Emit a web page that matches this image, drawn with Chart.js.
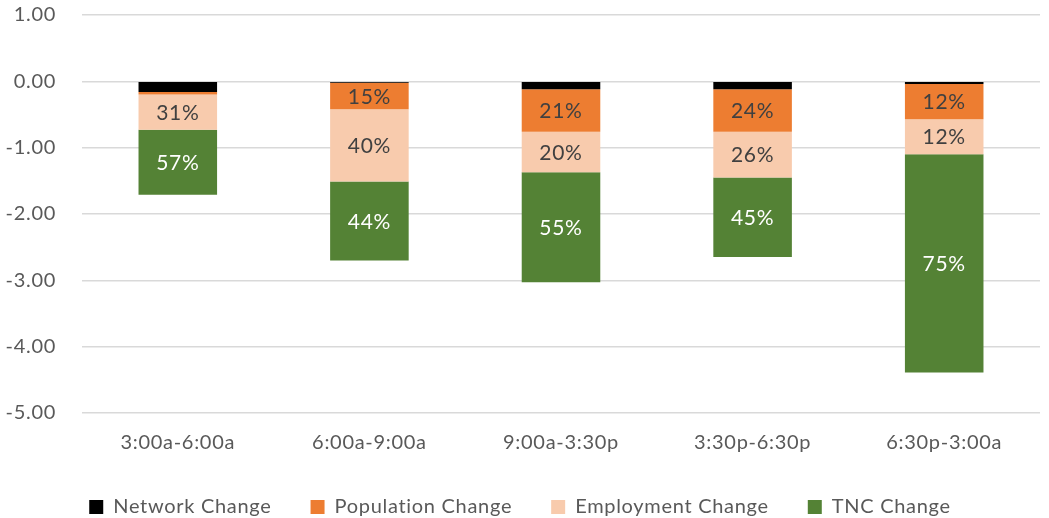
<!DOCTYPE html>
<html>
<head>
<meta charset="utf-8">
<script src="https://cdn.jsdelivr.net/npm/chart.js@4.4.0/dist/chart.umd.min.js"></script>
<style>
  html, body { margin: 0; padding: 0; background: #fff; }
  #wrap { width: 1049px; height: 518px; }
</style>
</head>
<body>
<div id="wrap"><canvas id="myChart"></canvas></div>
<script>
const periods = ["3:00a-6:00a", "6:00a-9:00a", "9:00a-3:30p", "3:30p-6:30p", "6:30p-3:00a"];
const networkChange = [-0.16, -0.02, -0.12, -0.12, -0.04];
const populationChange = [-0.04, -0.40, -0.64, -0.64, -0.53];
const employmentChange = [-0.53, -1.09, -0.61, -0.69, -0.53];
const tncChange = [-0.98, -1.19, -1.66, -1.20, -3.29];
const yTicks = [1, 0, -1, -2, -3, -4, -5];

const textGray = "#595959";

// slightly spaced letters, like the original rendering
const spacing = {
  id: "spacing",
  beforeUpdate(chart) { chart.ctx.letterSpacing = "0.7px"; },
  beforeDraw(chart) { chart.ctx.letterSpacing = "0.7px"; }
};

// percentage labels inside the segments (share of the bar's total)
const pctLabels = {
  id: "pctLabels",
  afterDatasetsDraw(chart) {
    const ctx = chart.ctx;
    const ds = chart.data.datasets;
    ctx.save();
    ctx.font = "21px Lato";
    ctx.textAlign = "center";
    ctx.textBaseline = "middle";
    for (let d = 1; d < ds.length; d++) {
      const meta = chart.getDatasetMeta(d);
      meta.data.forEach(function (bar, i) {
        let total = 0;
        ds.forEach(function (s) { total += Math.abs(s.data[i]); });
        const pct = Math.round(Math.abs(ds[d].data[i]) / total * 100);
        if (pct < 5) return;
        const p = bar.getProps(["x", "y", "base"], true);
        ctx.fillStyle = ds[d].labelColor;
        ctx.fillText(pct + "%", p.x, (p.y + p.base) / 2 + 1);
      });
    }
    ctx.restore();
  }
};

new Chart(document.getElementById("myChart").getContext("2d"), {
  type: "bar",
  data: {
    labels: periods,
    datasets: [
      { label: "Network Change", data: networkChange, backgroundColor: "#000000" },
      { label: "Population Change", data: populationChange, backgroundColor: "#ED7D31", labelColor: "#404040" },
      { label: "Employment Change", data: employmentChange, backgroundColor: "#F8CBAD", labelColor: "#404040" },
      { label: "TNC Change", data: tncChange, backgroundColor: "#548235", labelColor: "#ffffff" }
    ]
  },
  options: {
    responsive: true,
    maintainAspectRatio: false,
    animation: false,
    layout: { padding: { top: 15, right: 9, left: 0, bottom: 0 } },
    datasets: {
      bar: { categoryPercentage: 1.0, barPercentage: 0.41 }
    },
    scales: {
      x: {
        stacked: true,
        grid: { display: false, drawTicks: false },
        border: { display: false },
        afterFit: function (scale) { scale.height = 45; },
        ticks: { color: textGray, font: { family: "Lato", size: 20 }, padding: 18 }
      },
      y: {
        stacked: true,
        min: -5,
        max: 1,
        afterBuildTicks: function (scale) {
          scale.ticks = yTicks.map(function (v) { return { value: v }; });
        },
        afterFit: function (scale) {
          scale.width = 82;
          scale.paddingTop = 0;
          scale.paddingBottom = 0;
        },
        grid: { color: "#d9d9d9", lineWidth: 1.5, drawTicks: false },
        border: { display: false },
        ticks: {
          color: textGray,
          font: { family: "Lato", size: 20 },
          padding: 26,
          callback: function (v) { return Number(v).toFixed(2); }
        }
      }
    },
    plugins: {
      legend: {
        position: "bottom",
        maxHeight: 60,
        labels: {
          color: textGray,
          font: { family: "Lato", size: 20 },
          boxWidth: 14,
          boxHeight: 14,
          padding: 39
        }
      },
      tooltip: { enabled: false }
    }
  },
  plugins: [spacing, pctLabels]
});
</script>
</body>
</html>
